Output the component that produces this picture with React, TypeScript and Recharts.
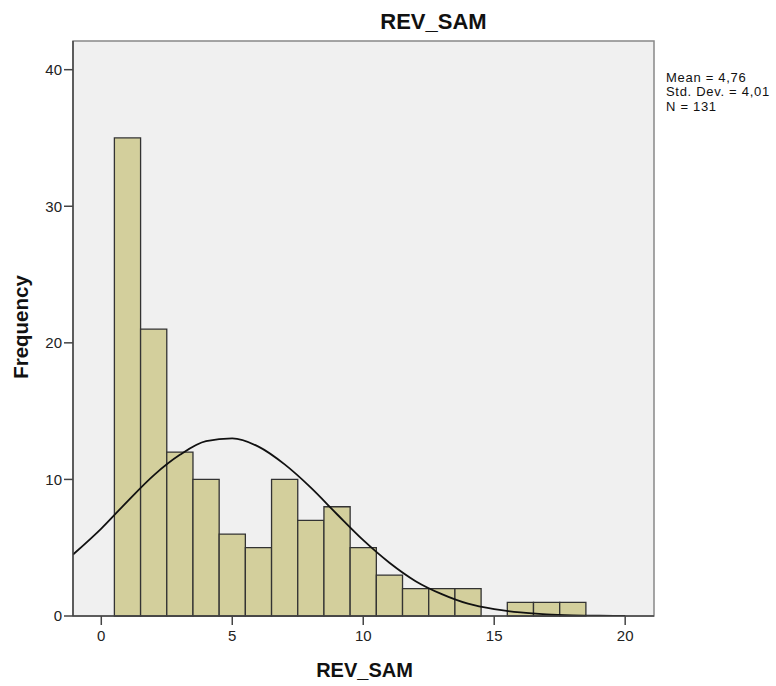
import { ComposedChart, Line, XAxis, YAxis, ReferenceArea } from "recharts";

// histogram bins (lower edge, upper edge, count)
const binStarts = [0.5, 1.5, 2.5, 3.5, 4.5, 5.5, 6.5, 7.5, 8.5, 9.5, 10.5, 11.5, 12.5, 13.5, 14.5, 15.5, 16.5, 17.5];
const binCounts = [35, 21, 12, 10, 6, 5, 10, 7, 8, 5, 3, 2, 2, 2, 0, 1, 1, 1];
const binWidth = 1;

// fitted normal curve
const curveX = [-1.08, 0, 1, 2, 3, 4, 5, 6, 7, 8, 9, 10, 11, 12, 13, 14, 15, 16, 17, 18, 19, 20];
const curveY = [4.5, 6.4, 8.4, 10.3, 11.8, 12.8, 13.0, 12.4, 11.1, 9.4, 7.45, 5.55, 3.9, 2.55, 1.6, 0.9, 0.5, 0.26, 0.12, 0.05, 0.02, 0.01];

const xTicks = [0, 5, 10, 15, 20];
const yTicks = [0, 10, 20, 30, 40];

const stats = ["Mean = 4,76", "Std. Dev. = 4,01", "N = 131"];

const curve = curveX.map((x, i) => ({ x, y: curveY[i] }));

const font = "'Liberation Sans', Arial, sans-serif";
const tickStyle = { fontSize: 15, fill: "#222", fontFamily: font };

export default function App() {
  return (
    <div style={{ position: "absolute", left: 0, top: 0, width: 776, height: 686, background: "#fff" }}>
      <ComposedChart
        width={776}
        height={686}
        data={curve}
        margin={{ top: 41, right: 122, left: 0, bottom: 0 }}
      >
        <XAxis
          dataKey="x"
          type="number"
          domain={[-1.08, 21.1]}
          ticks={xTicks}
          allowDataOverflow
          height={70}
          tickSize={9}
          tickMargin={5}
          tick={tickStyle}
          axisLine={{ stroke: "#444", strokeWidth: 1.5 }}
          tickLine={{ stroke: "#444", strokeWidth: 1.5 }}
        />
        <YAxis
          type="number"
          domain={[0, 42.1]}
          ticks={yTicks}
          allowDataOverflow
          width={73}
          tickSize={9}
          tickMargin={2}
          tick={tickStyle}
          axisLine={{ stroke: "#444", strokeWidth: 1.5 }}
          tickLine={{ stroke: "#444", strokeWidth: 1.5 }}
        />
        <ReferenceArea
          x1={-1.08}
          x2={21.1}
          y1={0}
          y2={42.1}
          fill="#f0f0f0"
          fillOpacity={1}
          stroke="#888"
          strokeWidth={1.5}
        />
        {binStarts.map((lo, i) =>
          binCounts[i] > 0 ? (
            <ReferenceArea
              key={i}
              x1={lo}
              x2={lo + binWidth}
              y1={0}
              y2={binCounts[i]}
              fill="#d3cf9c"
              fillOpacity={1}
              stroke="#333"
              strokeWidth={1.3}
            />
          ) : null
        )}
        <Line
          type="monotone"
          dataKey="y"
          stroke="#111"
          strokeWidth={1.8}
          dot={false}
          isAnimationActive={false}
        />
      </ComposedChart>
      <svg
        width={776}
        height={686}
        style={{ position: "absolute", left: 0, top: 0, pointerEvents: "none" }}
        fontFamily={font}
      >
        <text x={433.5} y={29} textAnchor="middle" fontSize={22} fontWeight="bold" fill="#111">
          REV_SAM
        </text>
        <text x={364.5} y={677} textAnchor="middle" fontSize={20} fontWeight="bold" fill="#111">
          REV_SAM
        </text>
        <text
          x={27.5}
          y={327}
          textAnchor="middle"
          fontSize={20.5}
          fontWeight="bold"
          fill="#111"
          transform="rotate(-90, 27.5, 327)"
        >
          Frequency
        </text>
        {stats.map((s, i) => (
          <text key={s} x={666} y={81.5 + i * 14.6} fontSize={13} letterSpacing={0.7} fill="#111">
            {s}
          </text>
        ))}
      </svg>
    </div>
  );
}
